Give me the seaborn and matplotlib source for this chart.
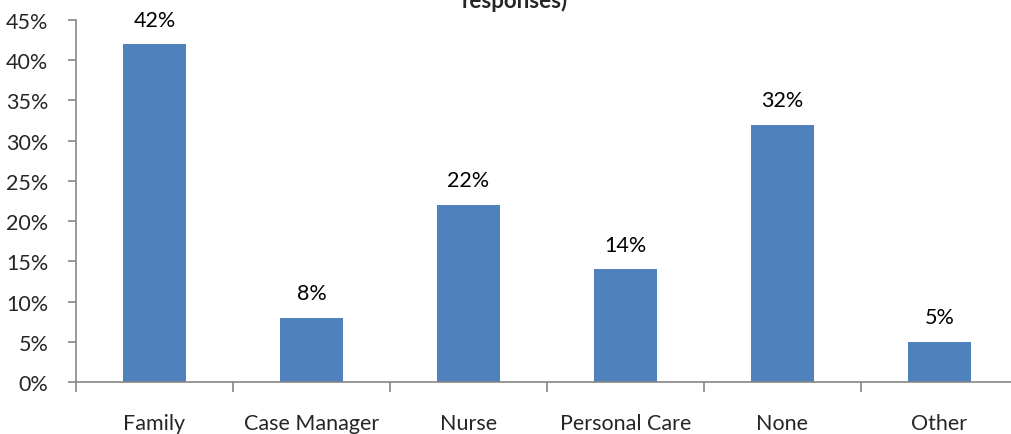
import matplotlib
matplotlib.use("Agg")
import matplotlib.pyplot as plt
import pandas as pd
import seaborn as sns
from matplotlib.ticker import PercentFormatter

# Data
categories = ["Family", "Case Manager", "Nurse", "Personal Care", "None", "Other"]
values = [42, 8, 22, 14, 32, 5]
y_ticks = [0, 5, 10, 15, 20, 25, 30, 35, 40, 45]

df = pd.DataFrame({"category": categories, "value": values})

sns.set_style("white")
plt.rcParams["font.family"] = ["Lato", "DejaVu Sans"]

W, H = 1011, 435
fig = plt.figure(figsize=(W / 100, H / 100), dpi=100)
# axes extends to the right beyond the image (the reference is cropped there)
ax = fig.add_axes([76 / W, 1 - 383 / H, 942 / W, 362 / H])

sns.barplot(data=df, x="category", y="value", color="#4F81BD",
            width=0.4, saturation=1, linewidth=0, ax=ax)

ax.set_xlim(-0.5, len(categories) - 0.5)
ax.set_ylim(0, 45)
ax.set_yticks(y_ticks)
ax.yaxis.set_major_formatter(PercentFormatter(decimals=0))
ax.set_xlabel("")
ax.set_ylabel("")

fs = 15.5
for c in ax.containers:
    ax.bar_label(c, labels=[f"{v}%" for v in values], padding=10.5,
                 fontsize=fs, color="#000000")

axis_col = "#868686"
for s in ["top", "right"]:
    ax.spines[s].set_visible(False)
for s in ["left", "bottom"]:
    ax.spines[s].set_color(axis_col)
    ax.spines[s].set_linewidth(1.2)

# x ticks sit between categories, labels sit at the category centers
ax.set_xticks([i - 0.5 for i in range(len(categories) + 1)], minor=False)
ax.set_xticklabels([])
ax.set_xticks(range(len(categories)), minor=True)
ax.set_xticklabels(categories, minor=True, fontsize=fs)
ax.tick_params(axis="x", which="major", direction="out", length=7,
               color=axis_col, width=1.2, bottom=True)
ax.tick_params(axis="x", which="minor", length=0, pad=22)
ax.tick_params(axis="y", direction="out", length=6, color=axis_col,
               width=1.2, left=True, labelsize=fs, pad=14)

# title, mostly cropped off at the top in the reference
fig.text(515 / W, 1 - 8 / H, "responses)", ha="center", va="baseline",
         fontsize=16, fontweight="bold")

fig.savefig("out.png", dpi=100)
